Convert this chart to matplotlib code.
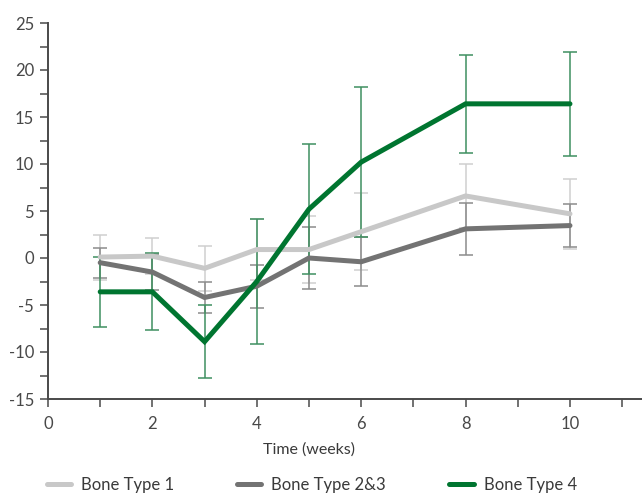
import matplotlib
matplotlib.use("Agg")
import matplotlib.pyplot as plt
from matplotlib.ticker import MultipleLocator

plt.rcParams['font.family'] = ['Lato', 'DejaVu Sans']
plt.rcParams['axes.unicode_minus'] = False

# weeks
weeks = [1, 2, 3, 4, 5, 6, 8, 10]

# Bone Type 1
type1 = [0.1, 0.2, -1.1, 0.9, 0.9, 2.8, 6.6, 4.7]
type1_err = [2.4, 1.9, 2.4, 3.2, 3.6, 4.1, 3.4, 3.7]

# Bone Type 2&3
type23 = [-0.5, -1.5, -4.2, -3.0, 0.0, -0.4, 3.1, 3.45]
type23_err = [1.6, 1.9, 1.6, 2.3, 3.3, 2.6, 2.8, 2.3]

# Bone Type 4
type4 = [-3.6, -3.6, -8.9, -2.5, 5.2, 10.2, 16.4, 16.4]
type4_err = [3.7, 4.1, 3.9, 6.6, 6.9, 8.0, 5.2, 5.5]

labels = ['Bone Type 1', 'Bone Type 2&3', 'Bone Type 4']
colors = ['#c8c8c8', '#737373', '#007530']
err_colors = ['#cfcfcf', '#8c8c8c', '#3f9060']

fig = plt.figure(figsize=(6.42, 4.93), dpi=100)
ax = fig.add_axes([48/642, 1-399/493, 1-48/642, (399-23)/493])

series = [(type1, type1_err), (type23, type23_err), (type4, type4_err)]
handles = []
for i, (vals, errs) in enumerate(series):
    ax.errorbar(weeks, vals, yerr=errs, fmt='none', ecolor=err_colors[i],
                elinewidth=1.1, capsize=5, capthick=1.1, zorder=2)
for i, (vals, errs) in enumerate(series):
    ln, = ax.plot(weeks, vals, color=colors[i], lw=3.6, label=labels[i],
                  solid_capstyle='round', solid_joinstyle='miter', zorder=3 + i)
    handles.append(ln)

ax.set_xlim(0, 11.38)
ax.set_ylim(-15, 25)
ax.xaxis.set_major_locator(MultipleLocator(2))
ax.xaxis.set_minor_locator(MultipleLocator(1))
ax.yaxis.set_major_locator(MultipleLocator(5))
ax.yaxis.set_minor_locator(MultipleLocator(2.5))

for s in ['top', 'right']:
    ax.spines[s].set_visible(False)
for s in ['left', 'bottom']:
    ax.spines[s].set_color('#4a4a4a')
    ax.spines[s].set_linewidth(1.4)

ax.tick_params(which='both', direction='out', length=6, width=1.1, color='#4a4a4a',
               labelsize=12, labelcolor='#484848')
ax.tick_params(axis='y', pad=4)
ax.tick_params(axis='x', pad=6)

fig.text(309/642, 1-450/493, 'Time (weeks)', ha='center', va='center',
         fontsize=11.5, color='#3a3a3a')

fig.legend(handles=handles, labels=labels, loc='center left',
           bbox_to_anchor=(40/642, 1-485/493), ncol=3, frameon=False,
           fontsize=12, handlelength=1.45, handletextpad=0.6, columnspacing=3.8,
           labelcolor='#3a3a3a', borderaxespad=0)

fig.savefig('out.png', dpi=100)
